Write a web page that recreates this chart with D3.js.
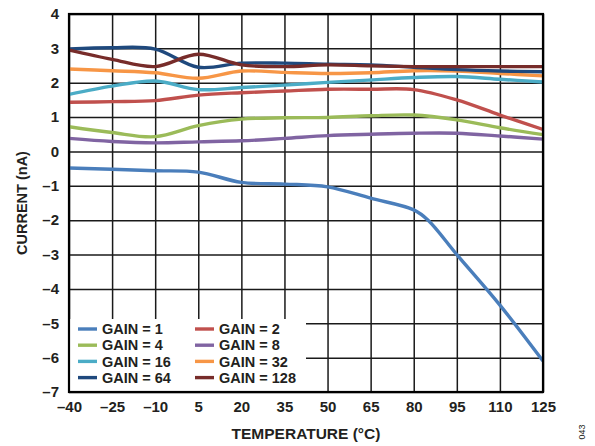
<!DOCTYPE html>
<html>
<head>
<meta charset="utf-8">
<script src="https://cdn.jsdelivr.net/npm/d3@7/dist/d3.min.js"></script>
<style>
  html, body { margin: 0; padding: 0; background: #fff; }
  svg { display: block; font-family: Arial, "Liberation Sans", sans-serif; }
</style>
</head>
<body>
<svg id="chart" width="595" height="446"></svg>
<script>
// temperature points (°C)
const temps = [-40, -25, -10, 5, 20, 35, 50, 65, 80, 95, 110, 125];
const gain1Temps = [-40, -25, -10, 5, 20, 35, 50, 65, 80, 85, 95, 110, 125];

// current (nA) per gain setting
const gain1 = [-0.48, -0.52, -0.56, -0.6, -0.9, -0.95, -1.03, -1.36, -1.7, -2.0, -3.0, -4.47, -6.1];
const gain2 = [1.43, 1.45, 1.48, 1.64, 1.71, 1.76, 1.81, 1.81, 1.8, 1.5, 1.06, 0.64];
const gain4 = [0.72, 0.55, 0.43, 0.75, 0.94, 0.98, 0.99, 1.04, 1.06, 0.92, 0.69, 0.49];
const gain8 = [0.38, 0.29, 0.25, 0.28, 0.31, 0.38, 0.46, 0.5, 0.53, 0.53, 0.45, 0.36];
const gain16 = [1.66, 1.9, 2.05, 1.8, 1.86, 1.93, 2.01, 2.08, 2.15, 2.18, 2.1, 2.02];
const gain32 = [2.4, 2.35, 2.29, 2.13, 2.34, 2.3, 2.27, 2.29, 2.35, 2.34, 2.27, 2.2];
const gain64 = [2.98, 3.02, 2.98, 2.45, 2.57, 2.57, 2.54, 2.52, 2.45, 2.38, 2.34, 2.32];
const gain128 = [2.95, 2.68, 2.47, 2.83, 2.52, 2.47, 2.52, 2.49, 2.47, 2.47, 2.47, 2.47];

const xTicks = [-40, -25, -10, 5, 20, 35, 50, 65, 80, 95, 110, 125];
const yTicks = [-7, -6, -5, -4, -3, -2, -1, 0, 1, 2, 3, 4];

const series = [
  { name: "GAIN = 1", x: gain1Temps, y: gain1, color: "#4a7ebb" },
  { name: "GAIN = 2", x: temps, y: gain2, color: "#c0504d" },
  { name: "GAIN = 4", x: temps, y: gain4, color: "#9bbb59" },
  { name: "GAIN = 8", x: temps, y: gain8, color: "#8064a2" },
  { name: "GAIN = 16", x: temps, y: gain16, color: "#4bacc6" },
  { name: "GAIN = 32", x: temps, y: gain32, color: "#f79646" },
  { name: "GAIN = 64", x: temps, y: gain64, color: "#1f497d" },
  { name: "GAIN = 128", x: temps, y: gain128, color: "#772c2a" }
];

const svg = d3.select("#chart");
const plotL = 69, plotR = 543, plotT = 14, plotB = 392;
const ink = "#231f20";

const x = d3.scaleLinear().domain([-40, 125]).range([plotL, plotR]);
const y = d3.scaleLinear().domain([-7, 4]).range([plotB, plotT]);

const fmt = d => d < 0 ? "\u2013" + Math.abs(d) : String(d);

// grid
const grid = svg.append("g");
grid.append("g")
  .attr("transform", `translate(0,${plotB})`)
  .call(d3.axisBottom(x).tickValues(xTicks).tickSize(-(plotB - plotT)).tickFormat(""))
  .call(g => g.select(".domain").remove())
  .call(g => g.selectAll("line").attr("stroke", "#1a1a1a").attr("stroke-width", 1.5));
grid.append("g")
  .attr("transform", `translate(${plotL},0)`)
  .call(d3.axisLeft(y).tickValues(yTicks).tickSize(-(plotR - plotL)).tickFormat(""))
  .call(g => g.select(".domain").remove())
  .call(g => g.selectAll("line").attr("stroke", "#1a1a1a").attr("stroke-width", 1.5));

// legend background hides grid underneath
svg.append("rect")
  .attr("x", plotL + 1).attr("y", 319)
  .attr("width", 236).attr("height", plotB - 319 - 1)
  .attr("fill", "#fff");

// lines
const lineGen = d3.line()
  .x(d => x(d[0]))
  .y(d => y(d[1]))
  .curve(d3.curveCatmullRom.alpha(0.5));

svg.append("clipPath").attr("id", "clip")
  .append("rect").attr("x", plotL).attr("y", plotT).attr("width", plotR - plotL).attr("height", plotB - plotT);

svg.append("g").attr("clip-path", "url(#clip)")
  .selectAll("path")
  .data(series)
  .join("path")
  .attr("d", s => lineGen(d3.zip(s.x, s.y)))
  .attr("fill", "none")
  .attr("stroke", s => s.color)
  .attr("stroke-width", 3.4)
  .attr("stroke-linejoin", "round");

// frame
svg.append("rect")
  .attr("x", plotL).attr("y", plotT)
  .attr("width", plotR - plotL).attr("height", plotB - plotT)
  .attr("fill", "none").attr("stroke", "#000").attr("stroke-width", 2.2);

// tick labels
const xAxis = svg.append("g")
  .attr("transform", `translate(0,${plotB})`)
  .call(d3.axisBottom(x).tickValues(xTicks).tickSize(0).tickPadding(9).tickFormat(fmt));
const yAxis = svg.append("g")
  .attr("transform", `translate(${plotL},0)`)
  .call(d3.axisLeft(y).tickValues(yTicks).tickSize(0).tickPadding(10).tickFormat(fmt));
[xAxis, yAxis].forEach(a => {
  a.select(".domain").remove();
  a.selectAll("text")
    .attr("font-family", "Arial, 'Liberation Sans', sans-serif")
    .attr("font-size", 15).attr("font-weight", "bold").attr("fill", ink);
});

// axis titles
svg.append("text")
  .attr("x", (plotL + plotR) / 2).attr("y", 439)
  .attr("text-anchor", "middle")
  .attr("font-size", 15.5).attr("font-weight", "bold").attr("fill", ink)
  .text("TEMPERATURE (°C)");
svg.append("text")
  .attr("transform", `translate(27,${(plotT + plotB) / 2}) rotate(-90)`)
  .attr("text-anchor", "middle")
  .attr("font-size", 14.5).attr("font-weight", "bold").attr("fill", ink)
  .text("CURRENT (nA)");
svg.append("text")
  .attr("transform", "translate(585,432) rotate(-90)")
  .attr("text-anchor", "middle")
  .attr("font-size", 9).attr("fill", ink)
  .text("043");

// legend
const legend = svg.append("g");
const items = legend.selectAll("g")
  .data(series)
  .join("g")
  .attr("transform", (s, i) => `translate(${i % 2 === 0 ? 78 : 195},${329 + Math.floor(i / 2) * 16.2})`);
items.append("line")
  .attr("x1", 0).attr("x2", 19)
  .attr("stroke", s => s.color).attr("stroke-width", 3.4);
items.append("text")
  .attr("x", 24).attr("dy", "0.36em")
  .attr("font-size", 14.5).attr("font-weight", "bold").attr("fill", ink)
  .text(s => s.name);
</script>
</body>
</html>
